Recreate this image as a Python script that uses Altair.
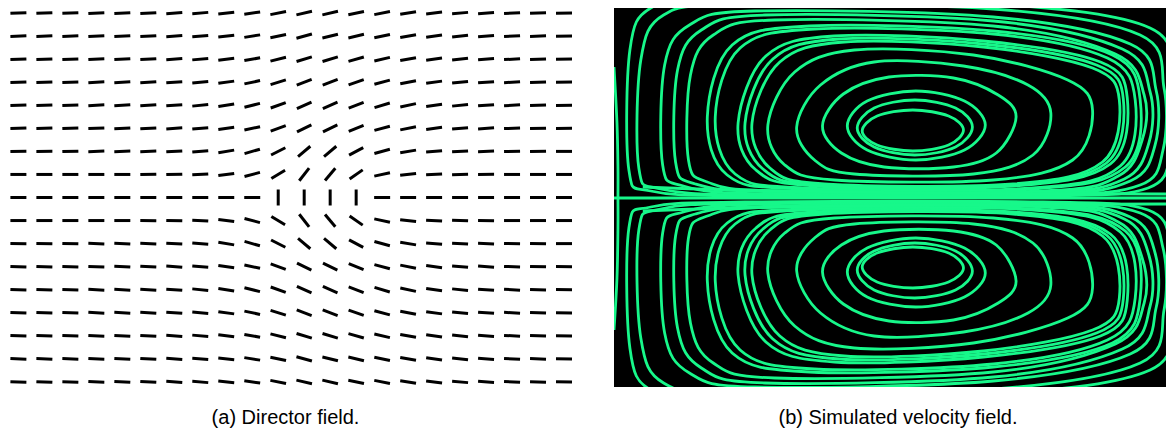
import altair as alt
import pandas as pd

# ---------------- (a) Director field ----------------
col_index = list(range(22))            # grid columns, left -> right
row_index = list(range(8, -9, -1))     # grid rows, top -> bottom (0 = defect line)

# director angle (degrees, counter-clockwise from horizontal)
director_angles = [
    [2, 2, 2, 3, 3, 3, 4, 5, 6, 8, 11, 13, 13, 12, 11, 9, 7, 5, 4, 3, 2, 1],
    [2, 2, 2, 3, 3, 3, 4, 5, 6, 9, 12, 15, 14, 13, 12, 10, 8, 6, 4, 3, 2, 1],
    [2, 2, 2, 3, 3, 3, 4, 5, 7, 10, 14, 17, 17, 16, 13, 10, 8, 6, 4, 3, 2, 1],
    [2, 2, 2, 3, 3, 3, 4, 5, 8, 12, 17, 21, 21, 19, 15, 11, 8, 6, 4, 3, 2, 1],
    [2, 2, 2, 3, 3, 3, 4, 6, 9, 14, 20, 24, 24, 21, 17, 12, 8, 6, 4, 3, 2, 1],
    [2, 2, 2, 2, 3, 3, 4, 5, 8, 12, 20, 26, 26, 22, 15, 11, 8, 5, 4, 2, 1, 1],
    [1, 1, 1, 2, 2, 2, 3, 5, 9, 16, 27, 40, 40, 28, 15, 9, 5, 3, 2, 1, 1, 0],
    [0, 0, 0, 0, 0, 1, 1, 3, 7, 15, 31, 52, 50, 35, 12, 6, 3, 2, 1, 0, 0, 0],
    [0, 0, 0, 0, 0, 0, 0, 0, 0, 0, 90, 90, 90, 90, 0, 0, 0, 0, 0, 0, 0, 0],
    [0, 0, 0, 0, 0, -1, -1, -3, -7, -15, -31, -52, -50, -35, -12, -6, -3, -2, -1, 0, 0, 0],
    [-1, -1, -1, -2, -2, -2, -3, -5, -9, -16, -27, -40, -40, -28, -15, -9, -5, -3, -2, -1, -1, 0],
    [-2, -2, -2, -2, -3, -3, -4, -5, -8, -12, -20, -26, -26, -22, -15, -11, -8, -5, -4, -2, -1, -1],
    [-2, -2, -2, -3, -3, -3, -4, -6, -9, -14, -20, -24, -24, -21, -17, -12, -8, -6, -4, -3, -2, -1],
    [-2, -2, -2, -3, -3, -3, -4, -5, -8, -12, -17, -21, -21, -19, -15, -11, -8, -6, -4, -3, -2, -1],
    [-2, -2, -2, -3, -3, -3, -4, -5, -7, -10, -14, -17, -17, -16, -13, -10, -8, -6, -4, -3, -2, -1],
    [-2, -2, -2, -3, -3, -3, -4, -5, -6, -9, -12, -15, -14, -13, -12, -10, -8, -6, -4, -3, -2, -1],
    [-2, -2, -2, -3, -3, -3, -4, -5, -6, -8, -11, -13, -13, -12, -11, -9, -7, -5, -4, -3, -2, -1],
]

# ---------------- (b) Simulated velocity field ----------------
# streamline control points (x along channel, y from mid-plane)
loop_x = [
    [250, 265, 301, 337, 352, 337, 301, 265],
    [245, 262, 303, 344, 361, 344, 303, 262],
    [235, 255, 304, 353, 374, 353, 304, 255],
    [210, 231, 277, 342, 387, 405, 385, 342, 272, 229],
    [184, 208, 262, 352, 417, 440, 422, 362, 242, 202],
    [155, 182, 242, 362, 457, 482, 462, 382, 222, 172],
    [139, 167, 232, 372, 482, 509, 492, 402, 212, 157],
    [132, 160, 227, 372, 486, 513, 496, 402, 207, 150],
    [125, 153, 222, 372, 490, 517, 500, 402, 202, 143],
    [102, 127, 202, 382, 497, 525, 510, 422, 192, 122],
    [94, 119, 197, 382, 502, 530, 515, 422, 187, 114],
    [75, 77, 100, 162, 382, 505, 534, 532, 508, 432, 162, 94],
    [62, 64, 88, 152, 382, 512, 540, 539, 514, 432, 162, 82],
    [49, 51, 76, 142, 382, 520, 546, 545, 520, 432, 152, 70],
    [25, 27, 50, 122, 382, 530, 554, 553, 530, 432, 142, 47],
    [15, 16, 37, 102, 382, 540, 562, 561, 538, 432, 132, 37],
]
upper_y = [
    [67, 82, 88, 82, 68, 53, 47, 53],
    [70, 90, 98, 90, 71, 51, 43, 51],
    [72, 97, 107, 97, 73, 48, 38, 48],
    [72, 104, 121, 120, 103, 81, 45, 31, 31, 45],
    [71, 113, 136, 132, 113, 85, 43, 24, 24, 38],
    [73, 126, 148, 143, 118, 88, 38, 18, 18, 33],
    [75, 136, 156, 151, 130, 98, 36, 14, 14, 30],
    [75, 139, 159, 154, 133, 99, 35, 13, 13, 29],
    [75, 142, 162, 157, 136, 100, 34, 12, 12, 28],
    [81, 150, 169, 164, 140, 98, 32, 10, 10, 24],
    [81, 153, 172, 167, 143, 98, 31, 9, 9, 23],
    [38, 123, 163, 178, 172, 144, 103, 58, 22, 7, 7, 16],
    [36, 128, 168, 183, 177, 149, 106, 56, 19, 6, 6, 14],
    [33, 133, 173, 187, 181, 154, 108, 53, 17, 4, 4, 12],
    [30, 138, 183, 193, 189, 163, 110, 48, 13, 3, 3, 9],
    [28, 148, 190, 198, 194, 170, 113, 48, 10, 2, 2, 7],
]
lower_y = [
    [-69, -84, -90, -84, -70, -55, -49, -55],
    [-72, -92, -100, -92, -73, -53, -45, -53],
    [-74, -99, -109, -99, -75, -50, -40, -50],
    [-74, -106, -123, -122, -105, -83, -47, -33, -33, -47],
    [-73, -115, -138, -134, -115, -87, -45, -26, -26, -40],
    [-75, -128, -150, -145, -120, -90, -40, -20, -20, -35],
    [-77, -138, -158, -153, -132, -100, -38, -16, -16, -32],
    [-77, -141, -161, -156, -135, -101, -37, -15, -15, -31],
    [-77, -144, -164, -159, -138, -102, -36, -14, -14, -30],
    [-83, -152, -171, -166, -142, -100, -34, -12, -12, -26],
    [-83, -155, -174, -169, -145, -100, -33, -11, -11, -25],
    [-40, -125, -165, -180, -174, -146, -105, -60, -24, -9, -9, -18],
    [-38, -130, -170, -185, -179, -151, -108, -58, -21, -8, -8, -16],
    [-35, -135, -175, -189, -183, -156, -110, -55, -19, -6, -6, -14],
    [-32, -140, -185, -195, -191, -165, -112, -50, -15, -5, -5, -11],
    [-30, -150, -192, -200, -196, -172, -115, -50, -12, -4, -4, -9],
]
# open streamlines: wall line, lines hugging the mid-plane, the mid-plane itself
open_x = [
    [0, 3, 4, 4, 4, 3, 0],
    [29, 120, 300, 556],
    [29, 120, 300, 556],
    [0, 556],
]
open_y = [
    [131, 75, 30, 0, -30, -80, -132],
    [11, 8, 5, 4],
    [-13, -10, -7, -6],
    [0, 0],
]

caption_a = "(a) Director field."
caption_b = "(b) Simulated velocity field."

GREEN = "#17f88a"
FONT = "Liberation Sans"

# ---------- tables ----------
dir_rows = []
for r, vals in zip(row_index, director_angles):
    for c, a in zip(col_index, vals):
        dir_rows.append({"col": c, "row": r, "theta": a})
df_dir = pd.DataFrame(dir_rows)

loop_rows = []
for k, xs in enumerate(loop_x):
    for i, (x, y) in enumerate(zip(xs, upper_y[k])):
        loop_rows.append({"line": f"u{k}", "i": i, "x": x, "y": y})
    for i, (x, y) in enumerate(zip(xs, lower_y[k])):
        loop_rows.append({"line": f"l{k}", "i": i, "x": x, "y": y})
df_loops = pd.DataFrame(loop_rows)

open_rows = []
for k, (xs, ys) in enumerate(zip(open_x, open_y)):
    for i, (x, y) in enumerate(zip(xs, ys)):
        open_rows.append({"line": f"o{k}", "i": i, "x": x, "y": y})
df_open = pd.DataFrame(open_rows)

# ---------- left panel ----------
left = (
    alt.Chart(df_dir)
    .transform_calculate(rot="(360 - datum.theta) % 360")
    .mark_point(shape="stroke", size=256, strokeWidth=3, color="black",
                filled=False, opacity=1, clip=True)
    .encode(
        x=alt.X("col:Q", scale=alt.Scale(domain=[-0.4, 21.5], nice=False, zero=False), axis=None),
        y=alt.Y("row:Q", scale=alt.Scale(domain=[-8.22, 8.22], nice=False, zero=False), axis=None),
        angle=alt.Angle("rot:Q", scale=None),
    )
    .properties(
        width=569, height=379,
        title=alt.TitleParams(caption_a, orient="bottom", offset=21, fontSize=20, font=FONT,
                              fontWeight="normal", color="black", anchor="middle",
                              baseline="top", dx=-7),
    )
)

# ---------- right panel ----------
xs = alt.X("x:Q", scale=alt.Scale(domain=[0, 556], nice=False, zero=False), axis=None)
ys = alt.Y("y:Q", scale=alt.Scale(domain=[-189, 190], nice=False, zero=False), axis=None)

loops = alt.Chart(df_loops).mark_line(
    interpolate="cardinal-closed", color=GREEN, strokeWidth=2.8, clip=True
).encode(x=xs, y=ys, detail="line:N", order="i:Q")

opens = alt.Chart(df_open).mark_line(
    interpolate="cardinal", color=GREEN, strokeWidth=2.8, clip=True
).encode(x=xs, y=ys, detail="line:N", order="i:Q")

right = alt.layer(loops, opens).properties(
    width=552, height=379,
    view=alt.ViewBackground(fill="black", stroke=None),
    title=alt.TitleParams(caption_b, orient="bottom", offset=21, fontSize=20, font=FONT,
                          fontWeight="normal", color="black", anchor="middle",
                          baseline="top", dx=8),
)

chart = (
    alt.hconcat(left, right, spacing=37)
    .properties(padding={"left": 0, "top": 0, "right": 0, "bottom": 0})
    .configure_view(stroke=None)
)

chart.save("out.html", embed_options={"renderer": "svg", "actions": False})
